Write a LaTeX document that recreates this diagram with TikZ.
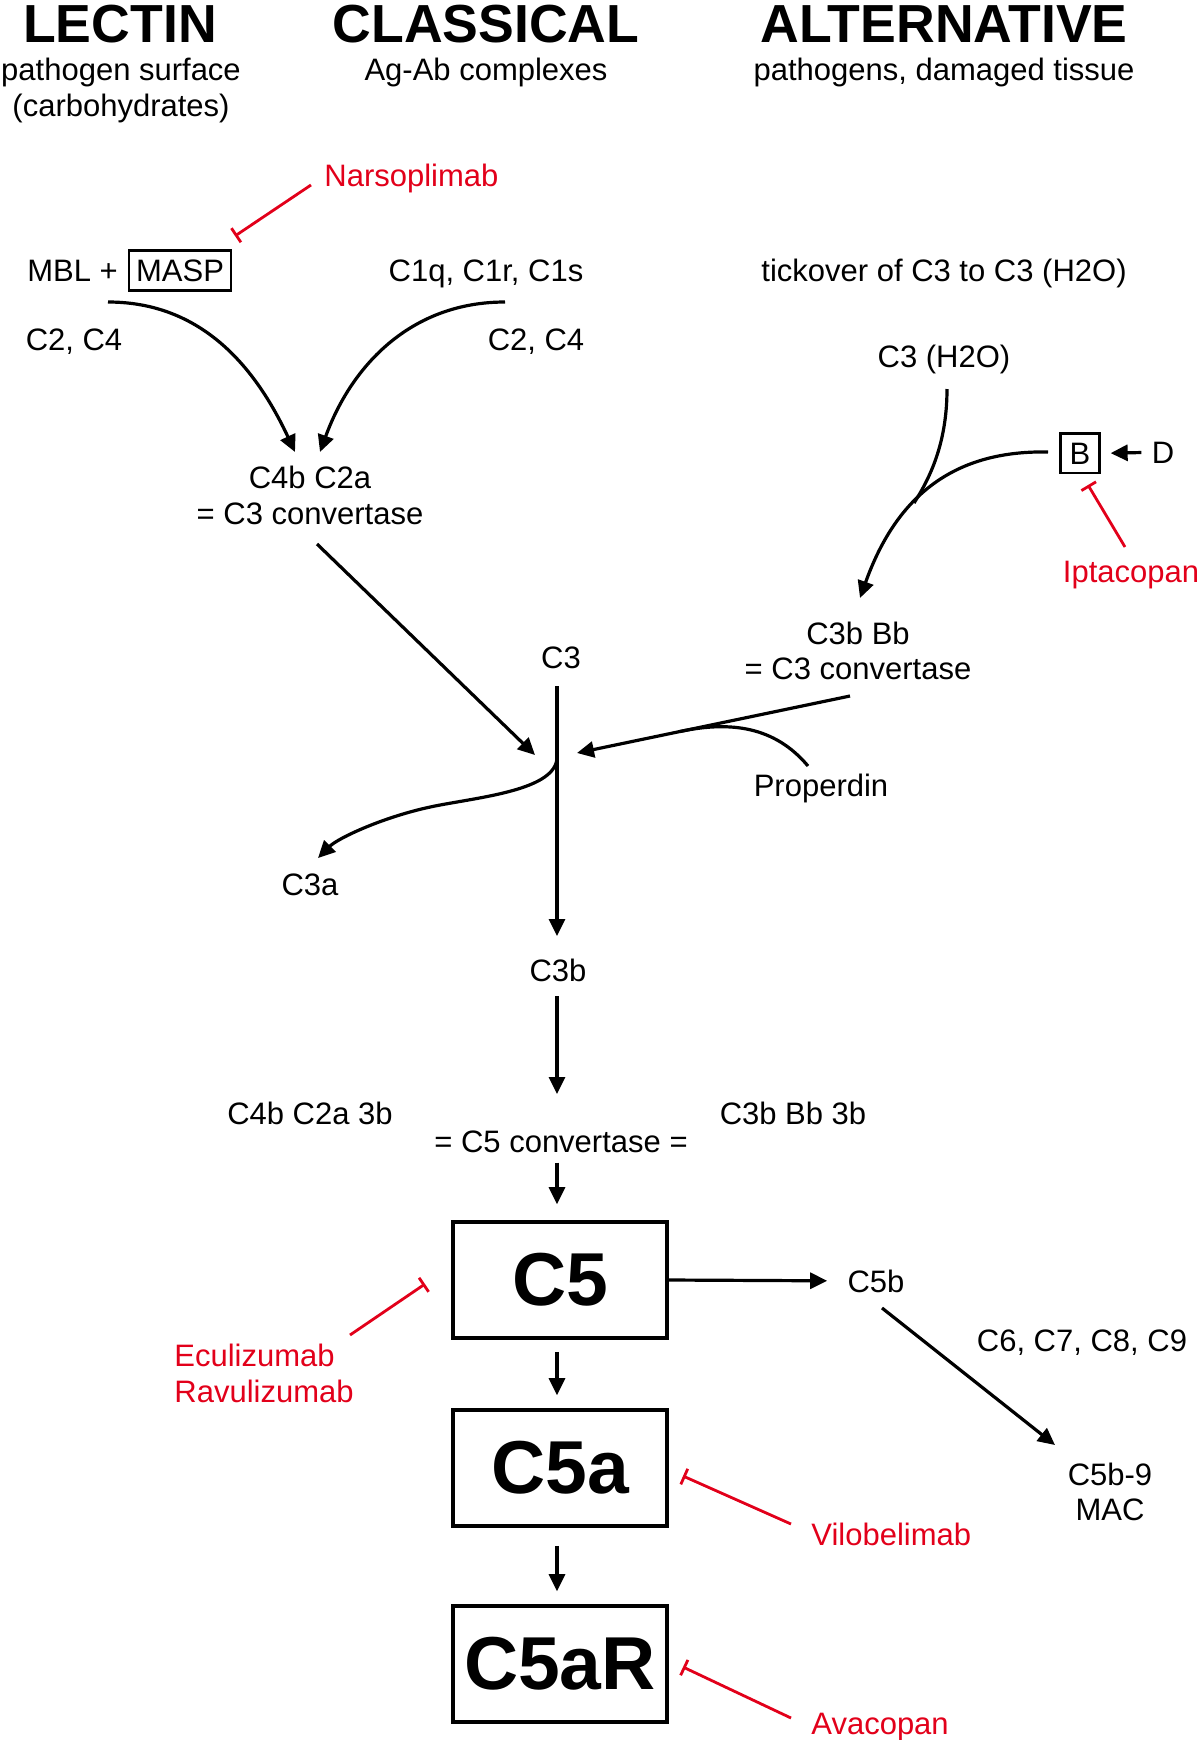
\documentclass[tikz,border=0pt]{standalone}
\usepackage{fontspec}
\setmainfont{Liberation Sans}
\usetikzlibrary{arrows.meta}
\definecolor{drugred}{RGB}{226,0,26}

\begin{document}
\begin{tikzpicture}[x=0.5pt,y=-0.5pt,
    txt/.style={font=\fontsize{15.5}{18}\selectfont,inner sep=0pt,anchor=base},
    head/.style={font=\fontsize{26.8}{30}\selectfont\bfseries,inner sep=0pt,anchor=base},
    drug/.style={txt,text=drugred,anchor=base west},
    boxed/.style={txt,draw,line width=1.3pt,inner sep=4.5pt},
    stage/.style={draw,line width=1.8pt,minimum width=107pt,minimum height=58pt,
        inner sep=0pt,font=\fontsize{37.5}{40}\selectfont\bfseries},
    flow/.style={line width=1.6pt,-{Triangle[length=8.5pt,width=8pt]}},
    curve/.style={line width=1.6pt},
    block/.style={drugred,line width=1.4pt,-{Bar[width=8.5pt]}}]
            \useasboundingbox (0,0) rectangle (1200,1740);
            % Headers
            \node[head] (lectin) at (120,42) {LECTIN};
            \node[head] (classical) at (486,42) {CLASSICAL};
            \node[head] (alternative) at (944,42) {ALTERNATIVE};
            \node[txt] (lecsrc) at (121,80) {pathogen surface};
            \node[txt] (lecsrc2) at (121,116) {(carbohydrates)};
            \node[txt] (clasrc) at (486,80) {Ag-Ab complexes};
            \node[txt] (altsrc) at (944,80) {pathogens, damaged tissue};

            % Lectin pathway
            \node[txt,anchor=base west] (mbl) at (27,281) {MBL +};
            \node[boxed,inner xsep=3.5pt] (masp) at (180,281) {MASP};
            \node[drug] (nars) at (324,186) {Narsoplimab};
            \node[txt] (lecc2) at (74,350) {C2, C4};

            % Classical pathway
            \node[txt] (c1) at (486,281) {C1q, C1r, C1s};
            \node[txt] (clac2) at (536,350) {C2, C4};
            \node[txt] (c4b) at (310,488) {C4b C2a};
            \node[txt] (c4bconv) at (310,524) {= C3 convertase};

            % Alternative pathway
            \node[txt] (tick) at (944,281) {tickover of C3 to C3 (H2O)};
            \node[txt] (h2o) at (944,367) {C3 (H2O)};
            \node[boxed] (fb) at (1080,464) {B};
            \node[txt] (fd) at (1163,463) {D};
            \node[drug,anchor=base] (ipt) at (1131,582) {Iptacopan};
            \node[txt] (c3bb) at (858,644) {C3b Bb};
            \node[txt] (c3bbconv) at (858,679) {= C3 convertase};
            \node[txt] (prop) at (821,796) {Properdin};

            % C3 cleavage
            \node[txt] (c3) at (561,668) {C3};
            \node[txt] (c3a) at (310,895) {C3a};
            \node[txt] (c3b) at (558,981) {C3b};
            \node[txt] (c5lconv) at (310,1124) {C4b C2a 3b};
            \node[txt] (c5rconv) at (793,1124) {C3b Bb 3b};
            \node[txt] (c5conv) at (561,1152) {= C5 convertase =};

            % C5 and its products
            \node[stage] (c5) at (560,1280) {C5};
            \node[stage] (c5a) at (560,1468) {C5a};
            \node[stage] (c5ar) at (560,1664) {C5aR};
            \node[txt] (c5b) at (876,1292) {C5b};
            \node[txt] (c69) at (1082,1351) {C6, C7, C8, C9};
            \node[txt] (mac) at (1110,1485) {C5b-9};
            \node[txt] (mac2) at (1110,1520) {MAC};
            \node[drug] (ecu) at (174,1366) {Eculizumab};
            \node[drug] (ravu) at (174,1402) {Ravulizumab};
            \node[drug] (vilo) at (811,1545) {Vilobelimab};
            \node[drug] (avac) at (811,1734) {Avacopan};

            % Connector ends
            \coordinate (lecS) at (108,302);
            \coordinate (lecE) at (295,452);
            \coordinate (claS) at (505,302);
            \coordinate (claE) at (320,452);
            \coordinate (convL) at (317,544);
            \coordinate (tipL) at (535,755);
            \coordinate (c3top) at (557,686);
            \coordinate (c3split) at (557,757);
            \coordinate (c3tip) at (557,936);
            \coordinate (c3amid) at (435,806);
            \coordinate (c3atip) at (318,858);
            \coordinate (convR) at (850,696);
            \coordinate (tipR) at (577,753);
            \coordinate (propS) at (808,766);
            \coordinate (propJ) at (680,731.5);
            \coordinate (h2oS) at (947,389);
            \coordinate (h2oJ) at (914,503);
            \coordinate (bS) at (1048,452);
            \coordinate (bTip) at (860,598);
            \coordinate (iptS) at (1125,547);
            \coordinate (iptE) at (1088,485);
            \coordinate (narsS) at (311,185);
            \coordinate (narsE) at (235,236);
            \coordinate (c3bS) at (557,996);
            \coordinate (c3bE) at (557,1094);
            \coordinate (c5bS) at (882,1308);
            \coordinate (macE) at (1055,1445);
            \coordinate (ecuS) at (350,1335);
            \coordinate (ecuE) at (425,1284);
            \coordinate (viloS) at (791,1524);
            \coordinate (viloE) at (683,1476);
            \coordinate (avacS) at (791,1718);
            \coordinate (avacE) at (683,1667);

            % Top pathways
            \draw[flow] (lecS) to[out=0,in=115] (lecE);
            \draw[flow] (claS) to[out=180,in=70] (claE);
            \draw[flow] (convL) -- (tipL);
            \draw[curve] (h2oS) .. controls (947,440) and (932,475) .. (h2oJ);
            \draw[flow] (bS) .. controls (950,450) and (895,500) .. (bTip);
            \draw[flow,shorten <=5pt,shorten >=5pt] (fd.west) -- (fb.east);
            \draw[flow] (convR) -- (tipR);
            \draw[curve] (propS) to[out=130,in=12] (propJ);

            % C3 split
            \draw[flow] (c3top) -- (c3tip);
            \draw[flow] (c3split) .. controls (557,790) and (480,797) .. (c3amid)
                .. controls (385,816) and (338,838) .. (c3atip);
            \draw[flow] (c3bS) -- (c3bE);
            \draw[flow,shorten <=5pt,shorten >=8pt] (c5conv.south -| c3tip) -- (c5.north -| c3tip);

            % C5 cascade
            \draw[flow,shorten <=6pt,shorten >=6.5pt] (c5.south -| c3tip) -- (c5a.north -| c3tip);
            \draw[flow,shorten <=9pt,shorten >=6.5pt] (c5a.south -| c3tip) -- (c5ar.north -| c3tip);
            \draw[flow,shorten >=10pt] (c5.east) -- (c5b.west);
            \draw[flow] (c5bS) -- (macE);

            % Inhibitors
            \draw[block] (narsS) -- (narsE);
            \draw[block] (iptS) -- (iptE);
            \draw[block] (ecuS) -- (ecuE);
            \draw[block] (viloS) -- (viloE);
            \draw[block] (avacS) -- (avacE);
\end{tikzpicture}
\end{document}
